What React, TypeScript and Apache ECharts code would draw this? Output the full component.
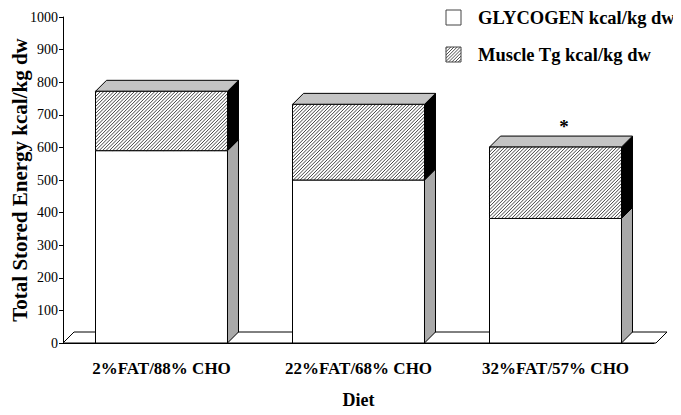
import React, { useEffect, useRef } from 'react';
import * as echarts from 'echarts';

const categories = ['2%FAT/88% CHO', '22%FAT/68% CHO', '32%FAT/57% CHO'];
const glycogen = [590, 500, 382];
const muscleTg = [182, 232, 219];
const significance = ['', '', '*'];
const seriesNames = ['GLYCOGEN kcal/kg dw', 'Muscle Tg kcal/kg dw'];

const DX = 11;
const DY = 11;
const HATCH = 3.4;
const FONT = '"Liberation Serif", "DejaVu Serif", serif';

function hatchPath(x0: number, y0: number, x1: number, y1: number, step: number) {
  let d = '';
  for (let c = x0 + y0 + step / 2; c < x1 + y1; c += step) {
    const xa = Math.max(x0, c - y1);
    const xb = Math.min(x1, c - y0);
    if (xb <= xa) continue;
    d += `M${xa.toFixed(2)},${(c - xa).toFixed(2)}L${xb.toFixed(2)},${(c - xb).toFixed(2)}`;
  }
  return d;
}

function hatchLines(x0: number, y0: number, x1: number, y1: number, step: number) {
  const out: any[] = [];
  for (let c = x0 + y0 + step / 2; c < x1 + y1; c += step) {
    const xa = Math.max(x0, c - y1);
    const xb = Math.min(x1, c - y0);
    if (xb <= xa) continue;
    out.push({
      type: 'line',
      shape: { x1: xa, y1: c - xa, x2: xb, y2: c - xb },
      style: { stroke: '#222', lineWidth: 0.8 },
    });
  }
  return out;
}

export default function App() {
  const ref = useRef<HTMLDivElement>(null);

  useEffect(() => {
    if (!ref.current) return;
    const chart = echarts.init(ref.current, undefined, { renderer: 'svg' });

    const barWidthOf = (api: any) => api.size([1, 0])[0] * 0.67;

    const legendX = 446;
    const legendY1 = 10;
    const legendY2 = 47;
    const box = 15;

    const option: any = {
      animation: false,
      backgroundColor: '#fff',
      grid: { left: 63, right: 27, top: 17, bottom: 72, outerBoundsMode: 'none', containLabel: false },
      xAxis: {
        type: 'category',
        data: categories,
        name: 'Diet',
        nameLocation: 'middle',
        nameGap: 48,
        nameMoveOverlap: false,
        nameTextStyle: { fontFamily: FONT, fontWeight: 'bold', fontSize: 18, color: '#000' },
        axisLine: { lineStyle: { color: '#000', width: 1 } },
        axisTick: { alignWithLabel: true, length: 6, lineStyle: { color: '#000' } },
        axisLabel: { fontFamily: FONT, fontWeight: 'bold', fontSize: 17, color: '#000', margin: 17 },
      },
      yAxis: {
        type: 'value',
        min: 0,
        max: 1000,
        interval: 100,
        name: 'Total Stored Energy kcal/kg dw',
        nameLocation: 'middle',
        nameGap: 33,
        nameMoveOverlap: false,
        nameTextStyle: { fontFamily: FONT, fontWeight: 'bold', fontSize: 21, color: '#000' },
        axisLine: { show: true, lineStyle: { color: '#000', width: 1 } },
        axisTick: { show: true, length: 4, lineStyle: { color: '#000' } },
        axisLabel: {
          fontFamily: FONT,
          fontSize: 14,
          color: '#000',
          margin: 5,
          formatter: (v: number) => String(v),
        },
        splitLine: { show: false },
      },
      series: [
        {
          type: 'custom',
          name: 'floor',
          silent: true,
          data: [[0]],
          renderItem: (params: any) => {
            const cs = params.coordSys;
            const yb = cs.y + cs.height;
            const xl = cs.x;
            const xr = cs.x + cs.width;
            return {
              type: 'polygon',
              shape: { points: [[xl, yb], [xl + DX, yb - DY], [xr + DX + 2, yb - DY], [xr + 2, yb]] },
              style: { fill: '#fff', stroke: '#000', lineWidth: 1 },
            };
          },
        },
        {
          type: 'custom',
          name: seriesNames[0],
          data: glycogen.map((v, i) => [i, v]),
          renderItem: (params: any, api: any) => {
            const i = api.value(0);
            const v = api.value(1);
            const [cx, yb] = api.coord([i, 0]);
            const yt = api.coord([i, v])[1];
            const bw = barWidthOf(api);
            const x0 = cx - bw / 2;
            const x1 = cx + bw / 2;
            return {
              type: 'group',
              children: [
                {
                  type: 'polygon',
                  shape: { points: [[x1, yb], [x1 + DX, yb - DY], [x1 + DX, yt - DY], [x1, yt]] },
                  style: { fill: '#a9a9a9', stroke: '#000', lineWidth: 1 },
                },
                {
                  type: 'rect',
                  shape: { x: x0, y: yt, width: bw, height: yb - yt },
                  style: { fill: '#fff', stroke: '#000', lineWidth: 1 },
                },
              ],
            };
          },
        },
        {
          type: 'custom',
          name: seriesNames[1],
          data: muscleTg.map((v, i) => [i, glycogen[i], glycogen[i] + v]),
          renderItem: (params: any, api: any) => {
            const i = api.value(0);
            const base = api.value(1);
            const top = api.value(2);
            const [cx, yb] = api.coord([i, base]);
            const yt = api.coord([i, top])[1];
            const bw = barWidthOf(api);
            const x0 = cx - bw / 2;
            const x1 = cx + bw / 2;
            const children: any[] = [
              {
                type: 'polygon',
                shape: { points: [[x1, yb], [x1 + DX, yb - DY], [x1 + DX, yt - DY], [x1, yt]] },
                style: { fill: '#000', stroke: '#000', lineWidth: 1 },
              },
              {
                type: 'polygon',
                shape: { points: [[x0, yt], [x0 + DX, yt - DY], [x1 + DX, yt - DY], [x1, yt]] },
                style: { fill: '#c4c4c4', stroke: '#000', lineWidth: 1 },
              },
              {
                type: 'rect',
                shape: { x: x0, y: yt, width: bw, height: yb - yt },
                style: { fill: '#fff', stroke: 'none' },
              },
              {
                type: 'path',
                shape: { pathData: hatchPath(x0, yt, x1, yb, HATCH) },
                style: { fill: 'none', stroke: '#222', lineWidth: 0.85 },
              },
              {
                type: 'rect',
                shape: { x: x0, y: yt, width: bw, height: yb - yt },
                style: { fill: 'none', stroke: '#000', lineWidth: 1 },
              },
            ];
            const mark = significance[i];
            if (mark) {
              children.push({
                type: 'text',
                style: {
                  text: mark,
                  x: cx + DX / 2 + 3,
                  y: yt - DY,
                  align: 'center',
                  verticalAlign: 'bottom',
                  fontFamily: FONT,
                  fontWeight: 'bold',
                  fontSize: 19,
                  fill: '#000',
                },
              });
            }
            return { type: 'group', children };
          },
        },
      ],
      graphic: [
        {
          type: 'rect',
          shape: { x: legendX, y: legendY1, width: box, height: box },
          style: { fill: '#fff', stroke: '#444', lineWidth: 1 },
        },
        {
          type: 'text',
          style: {
            text: seriesNames[0],
            x: 478,
            y: legendY1 + box / 2,
            verticalAlign: 'middle',
            fontFamily: FONT,
            fontWeight: 'bold',
            fontSize: 18.5,
            fill: '#000',
          },
        },
        {
          type: 'rect',
          shape: { x: legendX, y: legendY2, width: box, height: box },
          style: { fill: '#fff', stroke: 'none' },
        },
        ...hatchLines(legendX, legendY2, legendX + box, legendY2 + box, 3.2),
        {
          type: 'rect',
          shape: { x: legendX, y: legendY2, width: box, height: box },
          style: { fill: 'none', stroke: '#444', lineWidth: 1 },
        },
        {
          type: 'text',
          style: {
            text: seriesNames[1],
            x: 478,
            y: legendY2 + box / 2,
            verticalAlign: 'middle',
            fontFamily: FONT,
            fontWeight: 'bold',
            fontSize: 18.5,
            fill: '#000',
          },
        },
      ],
    };

    chart.setOption(option);
    return () => chart.dispose();
  }, []);

  return <div ref={ref} style={{ width: 681, height: 415, margin: -8 }} />;
}
